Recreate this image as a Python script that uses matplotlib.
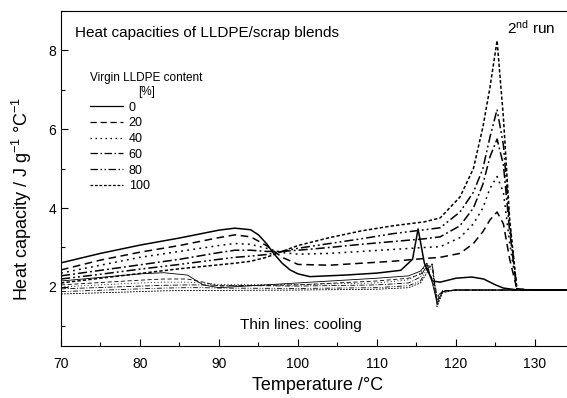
import matplotlib
matplotlib.use("Agg")
import matplotlib.pyplot as plt
from matplotlib.ticker import MultipleLocator

plt.rcParams['font.family'] = ['Liberation Sans', 'DejaVu Sans']
plt.rcParams['mathtext.fontset'] = 'custom'
plt.rcParams['mathtext.rm'] = 'Liberation Sans'
plt.rcParams['mathtext.it'] = 'Liberation Sans'

contents = ['0', '20', '40', '60', '80', '100']

# heating runs (thick lines)
T_heat0 = [70, 75, 80, 85, 90, 92, 94, 95, 96, 97, 98, 99, 100, 101.5, 106, 110, 113, 114.5, 115.2,
           116, 117, 118, 120, 122, 123.5, 125, 126, 127.5, 135]
cp_heat0 = [2.61, 2.85, 3.06, 3.24, 3.44, 3.49, 3.45, 3.32, 3.1, 2.83, 2.6, 2.43, 2.33, 2.26, 2.3,
            2.35, 2.42, 2.7, 3.47, 2.6, 2.15, 2.12, 2.22, 2.25, 2.2, 2.05, 1.97, 1.93, 1.92]

T_heat = [70, 75, 80, 85, 90, 92, 94, 96, 98, 100, 104, 108, 112, 116, 118, 120.5, 122.2, 123.4,
          124.3, 125.2, 126, 126.8, 127.7, 129, 135]
cp_heat20 = [2.43, 2.68, 2.88, 3.05, 3.25, 3.32, 3.27, 3.05, 2.75, 2.57, 2.55, 2.6, 2.65, 2.72, 2.75,
             2.85, 3.1, 3.4, 3.7, 3.9, 3.6, 2.7, 1.95, 1.92, 1.92]
cp_heat40 = [2.35, 2.55, 2.75, 2.9, 3.05, 3.1, 3.08, 2.98, 2.87, 2.83, 2.85, 2.9, 2.95, 3.0, 3.02,
             3.25, 3.6, 4.0, 4.5, 4.8, 4.4, 3.1, 1.95, 1.92, 1.92]
cp_heat60 = [2.28, 2.42, 2.56, 2.7, 2.87, 2.93, 2.93, 2.9, 2.9, 2.93, 3.0, 3.08, 3.15, 3.22, 3.27,
             3.55, 4.0, 4.6, 5.3, 5.75, 5.1, 3.4, 1.95, 1.92, 1.92]
cp_heat80 = [2.2, 2.32, 2.45, 2.57, 2.7, 2.75, 2.78, 2.82, 2.9, 2.98, 3.1, 3.22, 3.35, 3.45, 3.5,
             3.9, 4.4, 5.0, 5.8, 6.5, 5.6, 3.6, 1.95, 1.92, 1.92]
cp_heat100 = [2.1, 2.22, 2.34, 2.46, 2.56, 2.6, 2.65, 2.75, 2.9, 3.05, 3.25, 3.42, 3.55, 3.65, 3.75,
              4.28, 5.0, 6.05, 7.06, 8.25, 6.3, 3.7, 1.95, 1.92, 1.92]

# cooling runs (thin lines)
T_cool = [70, 80, 83, 86, 88, 90, 100, 110, 114, 115.5, 116.3, 117, 117.6, 118.3, 120, 135]
cp_cool0 = [2.15, 2.33, 2.36, 2.3, 2.05, 1.98, 2.1, 2.22, 2.28, 2.4, 2.6, 2.1, 1.6, 1.88, 1.92, 1.92]
cp_cool20 = [2.05, 2.17, 2.2, 2.2, 2.12, 2.02, 2.05, 2.15, 2.22, 2.32, 2.5, 2.2, 1.65, 1.9, 1.92, 1.92]
cp_cool40 = [2.0, 2.1, 2.12, 2.12, 2.1, 2.06, 2.06, 2.1, 2.18, 2.35, 2.6, 2.4, 1.7, 1.9, 1.92, 1.92]
cp_cool60 = [1.95, 2.02, 2.04, 2.05, 2.05, 2.04, 2.02, 2.05, 2.1, 2.25, 2.55, 2.5, 1.75, 1.9, 1.92, 1.92]
cp_cool80 = [1.88, 1.95, 1.97, 1.98, 1.98, 1.97, 1.96, 1.98, 2.03, 2.15, 2.45, 2.55, 1.55, 1.88, 1.92, 1.92]
cp_cool100 = [1.82, 1.88, 1.9, 1.91, 1.91, 1.91, 1.92, 1.94, 1.98, 2.1, 2.35, 2.6, 1.5, 1.85, 1.92, 1.92]

styles = ['-', (0, (5, 3)), (0, (1.2, 2.8)), (0, (6, 2, 1.2, 2)), (0, (6, 2, 1.2, 2, 1.2, 2)), (0, (2.2, 1.4))]

heat = [(T_heat0, cp_heat0), (T_heat, cp_heat20), (T_heat, cp_heat40),
        (T_heat, cp_heat60), (T_heat, cp_heat80), (T_heat, cp_heat100)]
cool = [cp_cool0, cp_cool20, cp_cool40, cp_cool60, cp_cool80, cp_cool100]

fig = plt.figure(figsize=(5.67, 3.98), dpi=100)
ax = fig.add_axes([61 / 567, 1 - 346 / 398, 513.5 / 567, 335 / 398])

handles = []
for (T, cp), c, ls, lab in zip(heat, cool, styles, contents):
    h, = ax.plot(T, cp, color='black', ls=ls, lw=1.1, label=lab)
    ax.plot(T_cool, c, color='black', ls=ls, lw=0.6)
    handles.append(h)

ax.set_xlim(70, 135)
ax.set_ylim(0.5, 9.0)
ax.xaxis.set_major_locator(MultipleLocator(10))
ax.xaxis.set_minor_locator(MultipleLocator(5))
ax.yaxis.set_major_locator(MultipleLocator(2))
ax.yaxis.set_minor_locator(MultipleLocator(1))
ax.tick_params(which='both', direction='in', labelsize=10, width=0.8)
ax.tick_params(which='major', length=5)
ax.tick_params(which='minor', length=3)
ax.tick_params(axis='x', pad=8)
for s in ax.spines.values():
    s.set_linewidth(0.8)

ax.set_xlabel('Temperature /°C', fontsize=13, labelpad=4)
ax.set_ylabel('Heat capacity / J g$^{-1}$ °C$^{-1}$', fontsize=13)
ax.yaxis.set_label_coords(-0.052, 0.44)

ax.text(75 / 567, 1 - 33 / 398, 'Heat capacities of LLDPE/scrap blends', transform=fig.transFigure,
        fontsize=11, va='center', ha='left')
ax.text(507 / 567, 1 - 28 / 398, '2$^{\\mathrm{nd}}$ run', transform=fig.transFigure,
        fontsize=11, va='center', ha='left')
ax.text(240 / 567, 1 - 325 / 398, 'Thin lines: cooling', transform=fig.transFigure,
        fontsize=11, va='center', ha='left')

leg = ax.legend(handles=handles, title='Virgin LLDPE content\n[%]', loc='upper left',
                bbox_to_anchor=(90 / 567, 1 - 72 / 398), bbox_transform=fig.transFigure,
                frameon=False, fontsize=9, title_fontsize=8.5, handlelength=2.6,
                handletextpad=0.5, labelspacing=0.3, borderpad=0, borderaxespad=0)
leg._legend_box.align = 'left'
leg.get_title().set_multialignment('center')
for h in leg.legend_handles:
    h.set_linewidth(0.9)

fig.savefig('out.png', dpi=100)
